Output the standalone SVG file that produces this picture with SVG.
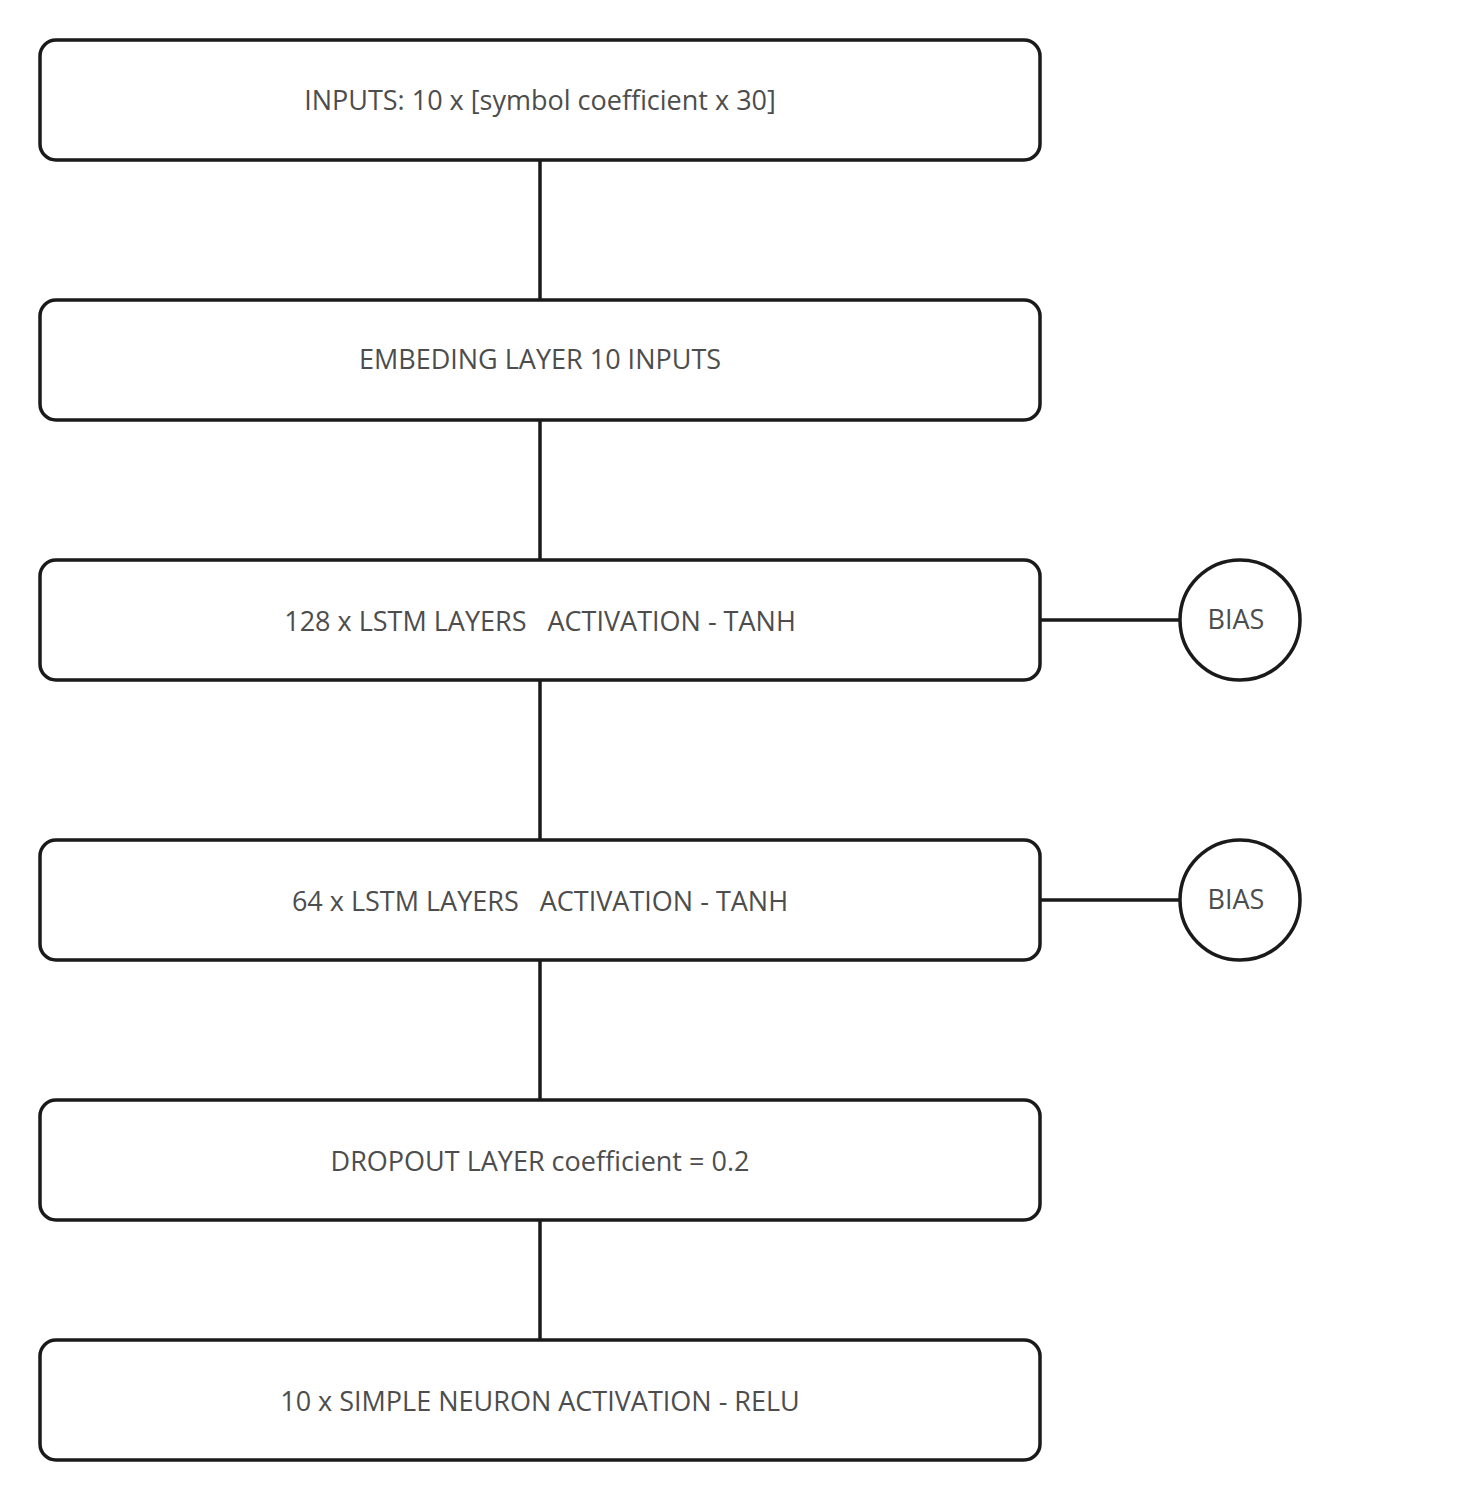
<svg xmlns="http://www.w3.org/2000/svg" width="1460" height="1500" viewBox="0 0 1460 1500">
<style>
.box{fill:#fff;stroke:#1a1a1a;stroke-width:3.5}
.lbl{font-family:"Open Sans",sans-serif;font-size:27px;fill:#4d4d4d;text-anchor:middle;white-space:pre}
.edge{stroke:#1a1a1a;stroke-width:3.5;fill:none}
</style>
<rect width="1460" height="1500" fill="#fff"/>
<g id="connectors">
<line class="edge" x1="540" y1="160" x2="540" y2="300"/>
<line class="edge" x1="540" y1="420" x2="540" y2="560"/>
<line class="edge" x1="540" y1="680" x2="540" y2="840"/>
<line class="edge" x1="540" y1="960" x2="540" y2="1100"/>
<line class="edge" x1="540" y1="1220" x2="540" y2="1340"/>
<line class="edge" x1="1040" y1="620" x2="1180" y2="620"/>
<line class="edge" x1="1040" y1="900" x2="1180" y2="900"/>
</g>
<g id="inputs"><rect class="box" x="40" y="40" width="1000" height="120" rx="16"/><text class="lbl" x="540" y="110">INPUTS: 10 x [symbol coefficient x 30]</text></g>
<g id="embedding"><rect class="box" x="40" y="300" width="1000" height="120" rx="16"/><text class="lbl" x="540" y="369">EMBEDING LAYER 10 INPUTS</text></g>
<g id="lstm128"><rect class="box" x="40" y="560" width="1000" height="120" rx="16"/><text class="lbl" x="540" y="631" xml:space="preserve">128 x LSTM LAYERS   ACTIVATION - TANH</text></g>
<g id="lstm64"><rect class="box" x="40" y="840" width="1000" height="120" rx="16"/><text class="lbl" x="540" y="911" xml:space="preserve">64 x LSTM LAYERS   ACTIVATION - TANH</text></g>
<g id="dropout"><rect class="box" x="40" y="1100" width="1000" height="120" rx="16"/><text class="lbl" x="540" y="1171">DROPOUT LAYER coefficient = 0.2</text></g>
<g id="dense"><rect class="box" x="40" y="1340" width="1000" height="120" rx="16"/><text class="lbl" x="540" y="1411">10 x SIMPLE NEURON ACTIVATION - RELU</text></g>
<g id="bias1"><circle class="box" cx="1240" cy="620" r="60"/><text class="lbl" x="1236" y="629">BIAS</text></g>
<g id="bias2"><circle class="box" cx="1240" cy="900" r="60"/><text class="lbl" x="1236" y="909">BIAS</text></g>
</svg>
